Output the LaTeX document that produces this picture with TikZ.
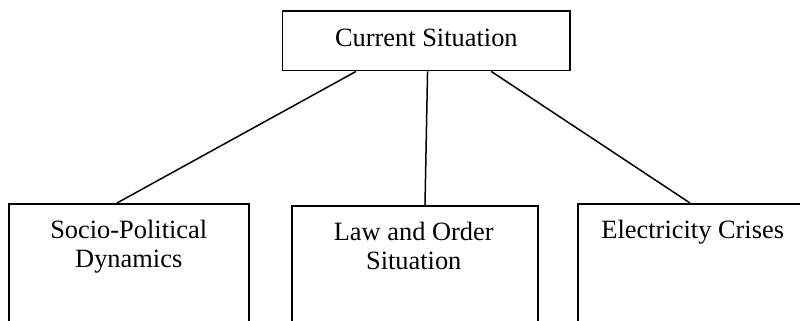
\documentclass[tikz,border=0pt]{standalone}
\usepackage{fontspec}
\setmainfont{Liberation Serif}
\begin{document}
\begin{tikzpicture}[x=1pt,y=-1pt,
  box/.style={draw=black, line width=1.5pt, inner sep=0pt, rectangle},
  lbl/.style={font=\fontsize{26.4}{29}\selectfont, align=center, inner sep=0pt},
  link/.style={draw=black, line width=1.5pt}]
\useasboundingbox (0,0) rectangle (800,321);
\clip (0,0) rectangle (800,321);
% top box
\node[box, minimum width=287.3pt, minimum height=59.7pt] (top) at (426.35,40.85) {};
\node[lbl, anchor=base] (toptext) at ([yshift=-5.8pt]top.center) {Current Situation};
% bottom boxes (cut off by the lower edge)
\node[box, anchor=north west, minimum width=240pt, minimum height=200pt] (sp) at (8,203) {};
\node[lbl, anchor=north] (sptext) at ([yshift=-17pt]sp.north) {Socio-Political\\Dynamics};
\node[box, anchor=north west, minimum width=246pt, minimum height=200pt] (lo) at (291,205) {};
\node[lbl, anchor=north] (lotext) at ([yshift=-17pt,xshift=-1pt]lo.north) {Law and Order\\Situation};
\node[box, anchor=north west, minimum width=230pt, minimum height=200pt] (ec) at (577,203) {};
\node[lbl, anchor=north] (ectext) at ([yshift=-17pt]ec.north) {Electricity Crises};
% connectors
\draw[link] ([xshift=74pt]top.south west) -- ([xshift=109pt]sp.north west);
\draw[link] ([xshift=145.6pt]top.south west) -- ([xshift=134pt]lo.north west);
\draw[link] ([xshift=209.3pt]top.south west) -- ([xshift=113pt]ec.north west);
\end{tikzpicture}
\end{document}
